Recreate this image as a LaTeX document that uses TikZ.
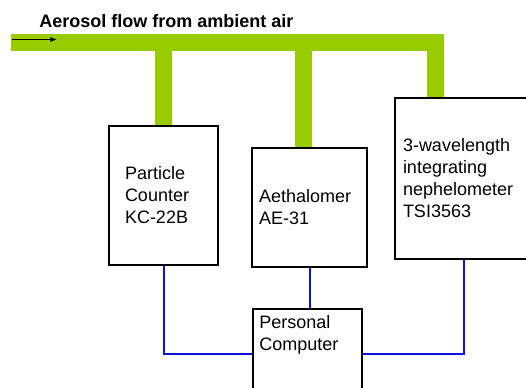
\documentclass[tikz,border=0pt]{standalone}
\usepackage{fontspec}
\setmainfont{Liberation Sans}
\usetikzlibrary{arrows.meta, positioning, calc}
\definecolor{pipegreen}{HTML}{99CC00}
\definecolor{wireblue}{HTML}{1010E0}

\begin{document}
\begin{tikzpicture}[
    x=0.75pt, y=-0.75pt,
    unit/.style={draw, line width=1.5pt, anchor=north west, align=left, inner ysep=0pt,
        font=\fontsize{13.5}{16.5}\selectfont},
    caption/.style={anchor=north west, align=left, inner sep=0pt,
        font=\fontsize{13.5}{16.5}\selectfont},
    pipe/.style={draw=pipegreen, line width=12.75pt, line join=miter},
    wire/.style={draw=wireblue, line width=1.5pt},
    flow/.style={-{Latex[length=5pt, width=4pt]}, line width=1.3pt},
]
\clip (0,0) rectangle (526,387);
\node[anchor=base west, inner sep=0pt, font=\fontsize{13.5}{16}\selectfont\bfseries] (title) at (39,27) {Aerosol flow from ambient air};

% instruments
\node[unit, inner xsep=16pt*0.75, text width=77pt*0.75, minimum height=139pt*0.75] (pcount) at (108,125) {Particle\\Counter\\KC-22B};
\node[unit, inner xsep=7pt*0.75, text width=101pt*0.75, minimum height=119pt*0.75] (aeth) at (251,147) {Aethalomer\\AE-31};
\node[unit, inner xsep=8pt*0.75, text width=122pt*0.75, minimum height=161pt*0.75] (neph) at (394,97) {3-wavelength\\integrating\\nephelometer\\TSI3563};
\node[unit, text width=100pt*0.75, minimum height=90pt*0.75] (pc) at (252,308) {};
\node[caption] (pctext) at (259,315) {Personal\\Computer};

% aerosol line
\coordinate (inlet) at (11,42);
\coordinate (tee1) at (163,42);
\coordinate (tee2) at (303.5,42);
\coordinate (flowstart) at (12,39.5);
\coordinate (flowend) at (57,39.5);
\draw[pipe] (inlet) -| ([xshift=41pt*0.75]neph.north west);
\draw[pipe] (tee1) -- (tee1 |- pcount.north);
\draw[pipe] (tee2) -- (tee2 |- aeth.north);
\draw[flow] (flowstart) -- (flowend);

% data cables
\draw[wire] (pcount.south) |- (pc.west);
\draw[wire] (aeth.south) -- (aeth.south |- pc.north);
\draw[wire] (neph.south) |- (pc.east);
\end{tikzpicture}
\end{document}
